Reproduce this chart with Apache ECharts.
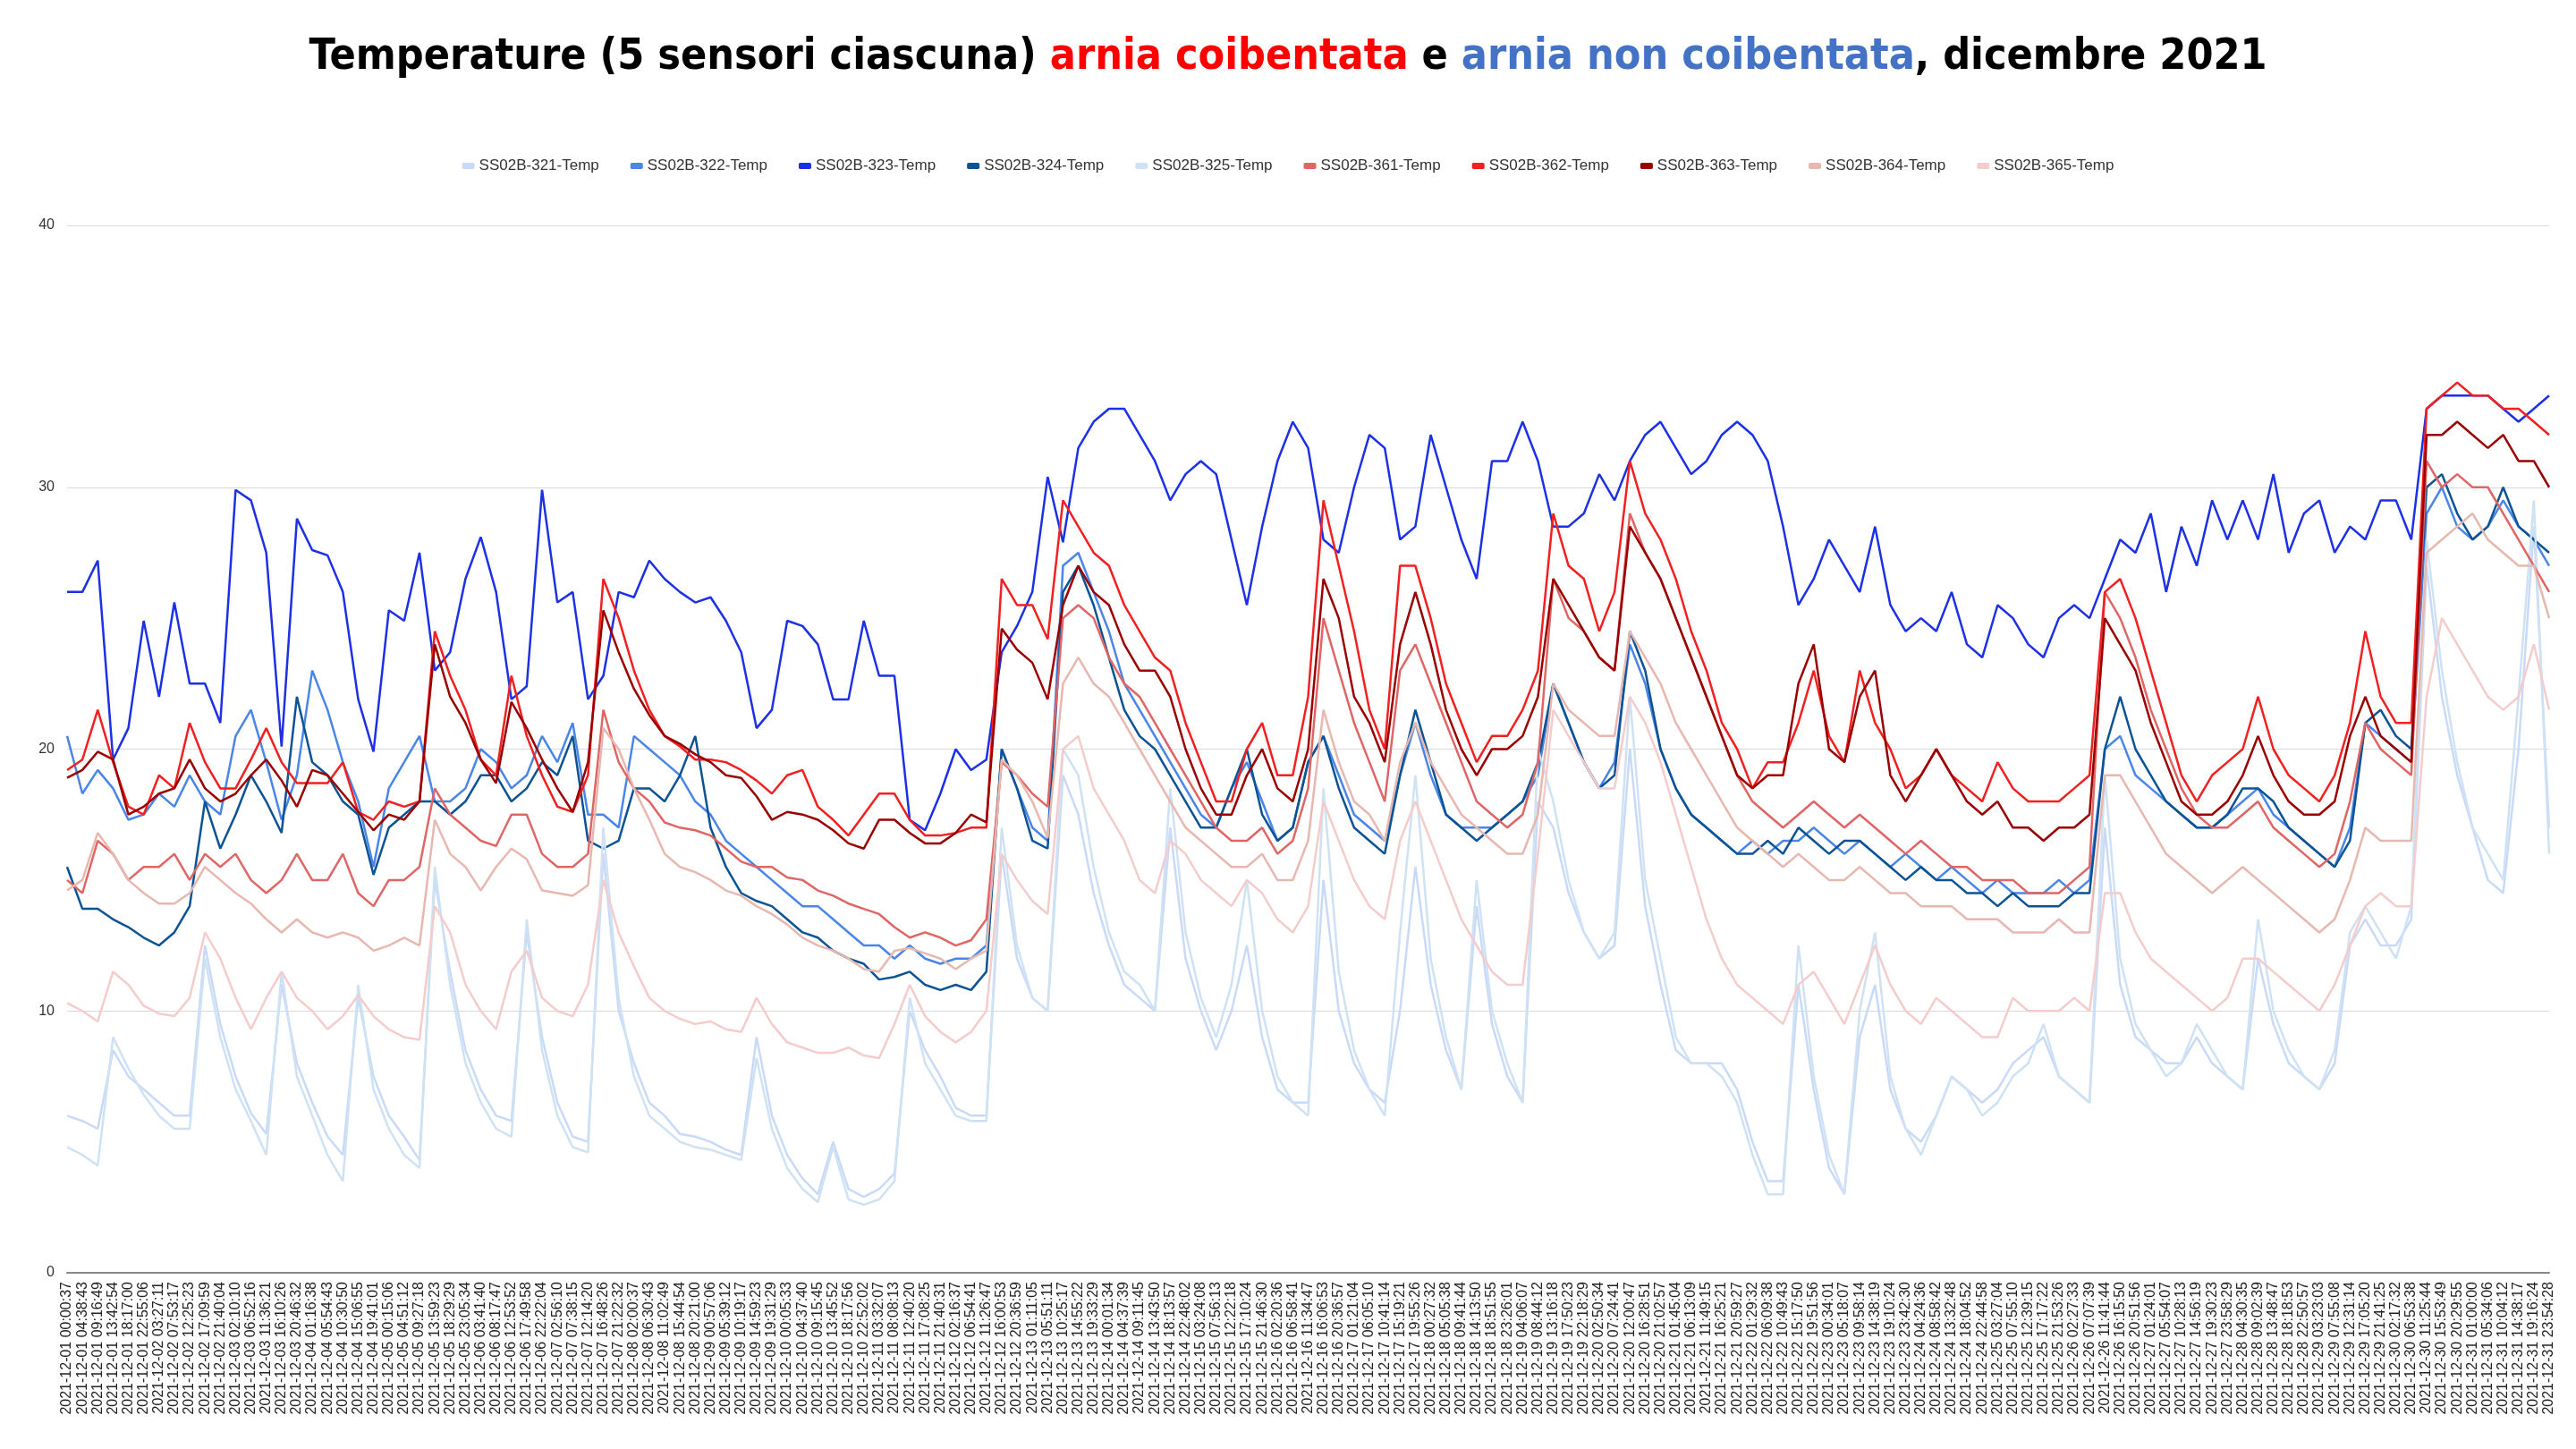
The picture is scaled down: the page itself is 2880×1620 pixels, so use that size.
<!DOCTYPE html>
<html>
<head>
<meta charset="utf-8">
<title>Temperature dicembre 2021</title>
<script src="https://cdn.jsdelivr.net/npm/echarts@6/dist/echarts.min.js"></script>
<style>
  html, body { margin: 0; padding: 0; background: #fff; }
  #chart { width: 2880px; height: 1620px; }
</style>
</head>
<body>
<div id="chart"></div>
<script>
const times = [
  '2021-12-01 00:00:37', '2021-12-01 04:38:43', '2021-12-01 09:16:49', '2021-12-01 13:42:54', '2021-12-01 18:17:00',
  '2021-12-01 22:55:06', '2021-12-02 03:27:11', '2021-12-02 07:53:17', '2021-12-02 12:25:23', '2021-12-02 17:09:59',
  '2021-12-02 21:40:04', '2021-12-03 02:10:10', '2021-12-03 06:52:16', '2021-12-03 11:36:21', '2021-12-03 16:10:26',
  '2021-12-03 20:46:32', '2021-12-04 01:16:38', '2021-12-04 05:54:43', '2021-12-04 10:30:50', '2021-12-04 15:06:55',
  '2021-12-04 19:41:01', '2021-12-05 00:15:06', '2021-12-05 04:51:12', '2021-12-05 09:27:18', '2021-12-05 13:59:23',
  '2021-12-05 18:29:29', '2021-12-05 23:05:34', '2021-12-06 03:41:40', '2021-12-06 08:17:47', '2021-12-06 12:53:52',
  '2021-12-06 17:49:58', '2021-12-06 22:22:04', '2021-12-07 02:56:10', '2021-12-07 07:38:15', '2021-12-07 12:14:20',
  '2021-12-07 16:48:26', '2021-12-07 21:22:32', '2021-12-08 02:00:37', '2021-12-08 06:30:43', '2021-12-08 11:02:49',
  '2021-12-08 15:44:54', '2021-12-08 20:21:00', '2021-12-09 00:57:06', '2021-12-09 05:39:12', '2021-12-09 10:19:17',
  '2021-12-09 14:59:23', '2021-12-09 19:31:29', '2021-12-10 00:05:33', '2021-12-10 04:37:40', '2021-12-10 09:15:45',
  '2021-12-10 13:45:52', '2021-12-10 18:17:56', '2021-12-10 22:52:02', '2021-12-11 03:32:07', '2021-12-11 08:08:13',
  '2021-12-11 12:40:20', '2021-12-11 17:08:25', '2021-12-11 21:40:31', '2021-12-12 02:16:37', '2021-12-12 06:54:41',
  '2021-12-12 11:26:47', '2021-12-12 16:00:53', '2021-12-12 20:36:59', '2021-12-13 01:11:05', '2021-12-13 05:51:11',
  '2021-12-13 10:25:17', '2021-12-13 14:55:22', '2021-12-13 19:33:29', '2021-12-14 00:01:34', '2021-12-14 04:37:39',
  '2021-12-14 09:11:45', '2021-12-14 13:43:50', '2021-12-14 18:13:57', '2021-12-14 22:48:02', '2021-12-15 03:24:08',
  '2021-12-15 07:56:13', '2021-12-15 12:22:18', '2021-12-15 17:10:24', '2021-12-15 21:46:30', '2021-12-16 02:20:36',
  '2021-12-16 06:58:41', '2021-12-16 11:34:47', '2021-12-16 16:06:53', '2021-12-16 20:36:57', '2021-12-17 01:21:04',
  '2021-12-17 06:05:10', '2021-12-17 10:41:14', '2021-12-17 15:19:21', '2021-12-17 19:55:26', '2021-12-18 00:27:32',
  '2021-12-18 05:05:38', '2021-12-18 09:41:44', '2021-12-18 14:13:50', '2021-12-18 18:51:55', '2021-12-18 23:26:01',
  '2021-12-19 04:06:07', '2021-12-19 08:44:12', '2021-12-19 13:16:18', '2021-12-19 17:50:23', '2021-12-19 22:18:29',
  '2021-12-20 02:50:34', '2021-12-20 07:24:41', '2021-12-20 12:00:47', '2021-12-20 16:28:51', '2021-12-20 21:02:57',
  '2021-12-21 01:45:04', '2021-12-21 06:13:09', '2021-12-21 11:49:15', '2021-12-21 16:25:21', '2021-12-21 20:59:27',
  '2021-12-22 01:29:32', '2021-12-22 06:09:38', '2021-12-22 10:49:43', '2021-12-22 15:17:50', '2021-12-22 19:51:56',
  '2021-12-23 00:34:01', '2021-12-23 05:18:07', '2021-12-23 09:58:14', '2021-12-23 14:38:19', '2021-12-23 19:10:24',
  '2021-12-23 23:42:30', '2021-12-24 04:24:36', '2021-12-24 08:58:42', '2021-12-24 13:32:48', '2021-12-24 18:04:52',
  '2021-12-24 22:44:58', '2021-12-25 03:27:04', '2021-12-25 07:55:10', '2021-12-25 12:39:15', '2021-12-25 17:17:22',
  '2021-12-25 21:53:26', '2021-12-26 02:27:33', '2021-12-26 07:07:39', '2021-12-26 11:41:44', '2021-12-26 16:15:50',
  '2021-12-26 20:51:56', '2021-12-27 01:24:01', '2021-12-27 05:54:07', '2021-12-27 10:28:13', '2021-12-27 14:56:19',
  '2021-12-27 19:30:23', '2021-12-27 23:58:29', '2021-12-28 04:30:35', '2021-12-28 09:02:39', '2021-12-28 13:48:47',
  '2021-12-28 18:18:53', '2021-12-28 22:50:57', '2021-12-29 03:23:03', '2021-12-29 07:55:08', '2021-12-29 12:31:14',
  '2021-12-29 17:05:20', '2021-12-29 21:41:25', '2021-12-30 02:17:32', '2021-12-30 06:53:38', '2021-12-30 11:25:44',
  '2021-12-30 15:53:49', '2021-12-30 20:29:55', '2021-12-31 01:00:00', '2021-12-31 05:34:06', '2021-12-31 10:04:12',
  '2021-12-31 14:38:17', '2021-12-31 19:16:24', '2021-12-31 23:54:28'
];

// arnia non coibentata
const s321 = [
  6, 5.8, 5.5, 8.5, 7.5, 7, 6.5, 6, 6, 12.5,
  9.5, 7.5, 6.1, 5.3, 11, 8, 6.5, 5.2, 4.5, 10.5,
  7.5, 6, 5.2, 4.3, 15, 11.5, 8.5, 7, 6, 5.8,
  13, 9, 6.5, 5.2, 5, 16, 10, 8, 6.5, 6,
  5.3, 5.2, 5, 4.7, 4.5, 9, 6, 4.5, 3.6, 3,
  5, 3.2, 2.9, 3.2, 3.8, 10, 8.5, 7.5, 6.3, 6,
  6, 16, 12, 10.5, 10, 19, 17.5, 14.5, 12.5, 11,
  10.5, 10, 17, 12, 10, 8.5, 10, 12.5, 9, 7,
  6.5, 6.5, 15, 10, 8, 7, 6.5, 10, 15.5, 11,
  8.5, 7, 14, 9.5, 7.5, 6.5, 18, 17, 14.5, 13,
  12, 12.5, 20, 14, 11, 8.5, 8, 8, 8, 7,
  5, 3.5, 3.5, 11, 7, 4, 3, 9, 11, 7,
  5.5, 5, 6, 7.5, 7, 6.5, 7, 8, 8.5, 9,
  7.5, 7, 6.5, 17, 11, 9, 8.5, 8, 8, 9,
  8, 7.5, 7, 12, 9.5, 8, 7.5, 7, 8, 12.5,
  13.5, 12.5, 12.5, 13.5, 27, 22, 19, 17, 15, 14.5,
  20, 28.5, 17
];
const s322 = [
  20.5, 18.3, 19.2, 18.5, 17.3, 17.5, 18.3, 17.8, 19, 18,
  17.5, 20.5, 21.5, 19.5, 17.3, 19, 23, 21.5, 19.5, 18,
  15.5, 18.5, 19.5, 20.5, 18, 18, 18.5, 20, 19.5, 18.5,
  19, 20.5, 19.5, 21, 17.5, 17.5, 17, 20.5, 20, 19.5,
  19, 18, 17.5, 16.5, 16, 15.5, 15, 14.5, 14, 14,
  13.5, 13, 12.5, 12.5, 12, 12.5, 12, 11.8, 12, 12,
  12.5, 20, 18.5, 17, 16.5, 27, 27.5, 26, 24.5, 22.5,
  21.5, 20.5, 19.5, 18.5, 17.5, 17, 18.5, 19.5, 18, 16.5,
  17, 19.5, 20.5, 19, 17.5, 17, 16.5, 19, 21, 19,
  17.5, 17, 17, 17, 17.5, 18, 19, 22.5, 21, 19.5,
  18.5, 19.5, 24, 22.5, 20, 18.5, 17.5, 17, 16.5, 16,
  16.5, 16, 16.5, 16.5, 17, 16.5, 16, 16.5, 16, 15.5,
  16, 15.5, 15, 15.5, 15, 14.5, 15, 14.5, 14.5, 14.5,
  15, 14.5, 15, 20, 20.5, 19, 18.5, 18, 17.5, 17,
  17, 17.5, 18, 18.5, 17.5, 17, 16.5, 16, 15.5, 17,
  21, 20.5, 20, 19.5, 29, 30, 28.5, 28, 28.5, 29.5,
  28.5, 28, 27
];
const s323 = [
  26, 26, 27.2, 19.6, 20.8, 24.9, 22, 25.6, 22.5, 22.5,
  21, 29.9, 29.5, 27.5, 20.1, 28.8, 27.6, 27.4, 26, 21.9,
  19.9, 25.3, 24.9, 27.5, 23, 23.7, 26.5, 28.1, 26, 21.9,
  22.4, 29.9, 25.6, 26, 21.9, 22.8, 26, 25.8, 27.2, 26.5,
  26, 25.6, 25.8, 24.9, 23.7, 20.8, 21.5, 24.9, 24.7, 24,
  21.9, 21.9, 24.9, 22.8, 22.8, 17.3, 16.9, 18.3, 20, 19.2,
  19.6, 23.7, 24.7, 26, 30.4, 27.9, 31.5, 32.5, 33, 33,
  32, 31, 29.5, 30.5, 31, 30.5, 28, 25.5, 28.5, 31,
  32.5, 31.5, 28, 27.5, 30, 32, 31.5, 28, 28.5, 32,
  30, 28, 26.5, 31, 31, 32.5, 31, 28.5, 28.5, 29,
  30.5, 29.5, 31, 32, 32.5, 31.5, 30.5, 31, 32, 32.5,
  32, 31, 28.5, 25.5, 26.5, 28, 27, 26, 28.5, 25.5,
  24.5, 25, 24.5, 26, 24, 23.5, 25.5, 25, 24, 23.5,
  25, 25.5, 25, 26.5, 28, 27.5, 29, 26, 28.5, 27,
  29.5, 28, 29.5, 28, 30.5, 27.5, 29, 29.5, 27.5, 28.5,
  28, 29.5, 29.5, 28, 33, 33.5, 33.5, 33.5, 33.5, 33,
  32.5, 33, 33.5
];
const s324 = [
  15.5, 13.9, 13.9, 13.5, 13.2, 12.8, 12.5, 13, 14, 18,
  16.2, 17.5, 19, 18, 16.8, 22, 19.5, 19, 18, 17.5,
  15.2, 17, 17.5, 18, 18, 17.5, 18, 19, 19, 18,
  18.5, 19.5, 19, 20.5, 16.5, 16.2, 16.5, 18.5, 18.5, 18,
  19, 20.5, 17, 15.5, 14.5, 14.2, 14, 13.5, 13, 12.8,
  12.3, 12, 11.8, 11.2, 11.3, 11.5, 11, 10.8, 11, 10.8,
  11.5, 20, 18.5, 16.5, 16.2, 26, 27, 25.5, 23.5, 21.5,
  20.5, 20, 19, 18, 17, 17, 18.5, 20, 17.5, 16.5,
  17, 19.5, 20.5, 18.5, 17, 16.5, 16, 19, 21.5, 19.5,
  17.5, 17, 16.5, 17, 17.5, 18, 19.5, 22.5, 21, 19.5,
  18.5, 19, 24.5, 23, 20, 18.5, 17.5, 17, 16.5, 16,
  16, 16.5, 16, 17, 16.5, 16, 16.5, 16.5, 16, 15.5,
  15, 15.5, 15, 15, 14.5, 14.5, 14, 14.5, 14, 14,
  14, 14.5, 14.5, 20, 22, 20, 19, 18, 17.5, 17,
  17, 17.5, 18.5, 18.5, 18, 17, 16.5, 16, 15.5, 16.5,
  21, 21.5, 20.5, 20, 30, 30.5, 29, 28, 28.5, 30,
  28.5, 28, 27.5
];
const s325 = [
  4.8, 4.5, 4.1, 9, 7.8, 6.8, 6, 5.5, 5.5, 12,
  9, 7, 5.8, 4.5, 11.5, 7.5, 6, 4.5, 3.5, 11,
  7, 5.5, 4.5, 4, 15.5, 11, 8, 6.5, 5.5, 5.2,
  13.5, 8.5, 6, 4.8, 4.6, 17, 10.5, 7.5, 6, 5.5,
  5, 4.8, 4.7, 4.5, 4.3, 8.2, 5.5, 4, 3.2, 2.7,
  4.8, 2.8, 2.6, 2.8, 3.5, 10.5, 8, 7, 6, 5.8,
  5.8, 17, 12.5, 10.5, 10, 20, 19, 15.5, 13, 11.5,
  11, 10, 18.5, 13, 10.5, 9, 11, 15, 10, 7.5,
  6.5, 6, 18.5, 11.5, 8.5, 7, 6, 13, 19, 12,
  9, 7, 15, 10, 8, 6.5, 20, 18, 15, 13,
  12, 13, 22, 15, 12, 9, 8, 8, 7.5, 6.5,
  4.5, 3, 3, 12.5, 7.5, 4.5, 3, 10, 13, 7.5,
  5.5, 4.5, 6, 7.5, 7, 6, 6.5, 7.5, 8, 9.5,
  7.5, 7, 6.5, 19, 12, 9.5, 8.5, 7.5, 8, 9.5,
  8.5, 7.5, 7, 13.5, 10, 8.5, 7.5, 7, 8.5, 13,
  14, 13, 12, 14, 28, 23, 19.5, 17, 16, 15,
  22, 29.5, 16
];

// arnia coibentata
const s361 = [
  15, 14.5, 16.5, 16, 15, 15.5, 15.5, 16, 15, 16,
  15.5, 16, 15, 14.5, 15, 16, 15, 15, 16, 14.5,
  14, 15, 15, 15.5, 18.5, 17.5, 17, 16.5, 16.3, 17.5,
  17.5, 16, 15.5, 15.5, 16, 21.5, 19.5, 18.5, 18, 17.2,
  17, 16.9, 16.7, 16.2, 15.7, 15.5, 15.5, 15.1, 15, 14.6,
  14.4, 14.1, 13.9, 13.7, 13.2, 12.8, 13, 12.8, 12.5, 12.7,
  13.5, 19.5, 19, 18.3, 17.8, 25, 25.5, 25, 23.5, 22.5,
  22, 21, 20, 19, 18, 17, 16.5, 16.5, 17, 16,
  16.5, 18.5, 25, 23, 21, 19.5, 18, 23, 24, 22.5,
  21, 19.5, 18, 17.5, 17, 17.5, 19.5, 26.5, 25, 24.5,
  23.5, 23, 29, 27.5, 26.5, 25, 23.5, 22, 20.5, 19,
  18, 17.5, 17, 17.5, 18, 17.5, 17, 17.5, 17, 16.5,
  16, 16.5, 16, 15.5, 15.5, 15, 15, 15, 14.5, 14.5,
  14.5, 15, 15.5, 26, 25, 23.5, 21.5, 20, 18.5, 17.5,
  17, 17, 17.5, 18, 17, 16.5, 16, 15.5, 16, 18,
  21, 20, 19.5, 19, 31, 30, 30.5, 30, 30, 29,
  28, 27, 26
];
const s362 = [
  19.2, 19.6, 21.5, 19.5, 17.8, 17.5, 19, 18.5, 21, 19.5,
  18.5, 18.5, 19.6, 20.8, 19.5, 18.7, 18.7, 18.7, 19.5, 17.6,
  17.3, 18, 17.8, 18, 24.5, 22.8, 21.5, 19.6, 19, 22.8,
  20.5, 19, 17.8, 17.6, 19, 26.5, 25, 23, 21.5, 20.5,
  20.1, 19.6, 19.6, 19.5, 19.2, 18.8, 18.3, 19, 19.2, 17.8,
  17.3, 16.7, 17.5, 18.3, 18.3, 17.3, 16.7, 16.7, 16.8, 17,
  17, 26.5, 25.5, 25.5, 24.2, 29.5, 28.5, 27.5, 27, 25.5,
  24.5, 23.5, 23, 21, 19.5, 18, 18, 20, 21, 19,
  19, 22, 29.5, 27, 24.5, 21.5, 20, 27, 27, 25,
  22.5, 21, 19.5, 20.5, 20.5, 21.5, 23, 29, 27, 26.5,
  24.5, 26, 31, 29, 28, 26.5, 24.5, 23, 21, 20,
  18.5, 19.5, 19.5, 21, 23, 20.5, 19.5, 23, 21, 20,
  18.5, 19, 20, 19, 18.5, 18, 19.5, 18.5, 18, 18,
  18, 18.5, 19, 26, 26.5, 25, 23, 21, 19, 18,
  19, 19.5, 20, 22, 20, 19, 18.5, 18, 19, 21,
  24.5, 22, 21, 21, 33, 33.5, 34, 33.5, 33.5, 33,
  33, 32.5, 32
];
const s363 = [
  18.9, 19.2, 19.9, 19.6, 17.5, 17.8, 18.3, 18.5, 19.6, 18.5,
  18, 18.3, 19, 19.6, 18.8, 17.8, 19.2, 19, 18.3, 17.6,
  16.9, 17.5, 17.3, 18, 24, 22, 21, 19.6, 18.7, 21.8,
  20.8, 19.6, 18.5, 17.6, 19.5, 25.3, 23.7, 22.3, 21.3, 20.5,
  20.2, 19.8, 19.5, 19, 18.9, 18.2, 17.3, 17.6, 17.5, 17.3,
  16.9, 16.4, 16.2, 17.3, 17.3, 16.8, 16.4, 16.4, 16.8, 17.5,
  17.2, 24.6, 23.8, 23.3, 21.9, 25.5, 27, 26, 25.5, 24,
  23, 23, 22, 20, 18.5, 17.5, 17.5, 19, 20, 18.5,
  18, 20, 26.5, 25, 22, 21, 19.5, 24, 26, 24,
  21.5, 20, 19, 20, 20, 20.5, 22, 26.5, 25.5, 24.5,
  23.5, 23, 28.5, 27.5, 26.5, 25, 23.5, 22, 20.5, 19,
  18.5, 19, 19, 22.5, 24, 20, 19.5, 22, 23, 19,
  18, 19, 20, 19, 18, 17.5, 18, 17, 17, 16.5,
  17, 17, 17.5, 25, 24, 23, 21, 19.5, 18, 17.5,
  17.5, 18, 19, 20.5, 19, 18, 17.5, 17.5, 18, 20.5,
  22, 20.5, 20, 19.5, 32, 32, 32.5, 32, 31.5, 32,
  31, 31, 30
];
const s364 = [
  14.6, 15, 16.8, 16, 15, 14.5, 14.1, 14.1, 14.5, 15.5,
  15, 14.5, 14.1, 13.5, 13, 13.5, 13, 12.8, 13, 12.8,
  12.3, 12.5, 12.8, 12.5, 17.3, 16, 15.5, 14.6, 15.5, 16.2,
  15.8, 14.6, 14.5, 14.4, 14.8, 20.8, 20, 18.5, 17.3, 16,
  15.5, 15.3, 15, 14.6, 14.4, 14, 13.7, 13.3, 12.8, 12.5,
  12.3, 12, 11.6, 11.5, 12.3, 12.4, 12.2, 12, 11.6, 12,
  12.3, 19.6, 19, 18, 16.6, 22.5, 23.5, 22.5, 22, 21,
  20, 19, 18, 17, 16.5, 16, 15.5, 15.5, 16, 15,
  15, 16.5, 21.5, 19.5, 18, 17.5, 16.5, 19.5, 21, 19.5,
  18.5, 17.5, 17, 16.5, 16, 16, 17.5, 22.5, 21.5, 21,
  20.5, 20.5, 24.5, 23.5, 22.5, 21, 20, 19, 18, 17,
  16.5, 16, 15.5, 16, 15.5, 15, 15, 15.5, 15, 14.5,
  14.5, 14, 14, 14, 13.5, 13.5, 13.5, 13, 13, 13,
  13.5, 13, 13, 19, 19, 18, 17, 16, 15.5, 15,
  14.5, 15, 15.5, 15, 14.5, 14, 13.5, 13, 13.5, 15,
  17, 16.5, 16.5, 16.5, 27.5, 28, 28.5, 29, 28, 27.5,
  27, 27, 25
];
const s365 = [
  10.3, 10, 9.6, 11.5, 11, 10.2, 9.9, 9.8, 10.5, 13,
  12, 10.5, 9.3, 10.5, 11.5, 10.5, 10, 9.3, 9.8, 10.6,
  9.8, 9.3, 9, 8.9, 14, 13, 11, 10, 9.3, 11.5,
  12.3, 10.5, 10, 9.8, 11, 15, 13, 11.7, 10.5, 10,
  9.7, 9.5, 9.6, 9.3, 9.2, 10.5, 9.5, 8.8, 8.6, 8.4,
  8.4, 8.6, 8.3, 8.2, 9.5, 11, 9.8, 9.2, 8.8, 9.2,
  10, 16, 15, 14.2, 13.7, 20, 20.5, 18.5, 17.5, 16.5,
  15, 14.5, 16.5, 16, 15, 14.5, 14, 15, 14.5, 13.5,
  13, 14, 18, 16.5, 15, 14, 13.5, 16.5, 18, 16.5,
  15, 13.5, 12.5, 11.5, 11, 11, 16, 21.5, 20.5, 19.5,
  18.5, 18.5, 22, 21, 19.5, 17.5, 15.5, 13.5, 12, 11,
  10.5, 10, 9.5, 11, 11.5, 10.5, 9.5, 11, 12.5, 11,
  10, 9.5, 10.5, 10, 9.5, 9, 9, 10.5, 10, 10,
  10, 10.5, 10, 14.5, 14.5, 13, 12, 11.5, 11, 10.5,
  10, 10.5, 12, 12, 11.5, 11, 10.5, 10, 11, 12.5,
  14, 14.5, 14, 14, 22, 25, 24, 23, 22, 21.5,
  22, 24, 21.5
];

const sensors = [
  { name: 'SS02B-321-Temp', data: s321, color: '#c9daf8' },
  { name: 'SS02B-322-Temp', data: s322, color: '#4a86e8' },
  { name: 'SS02B-323-Temp', data: s323, color: '#1c30e6' },
  { name: 'SS02B-324-Temp', data: s324, color: '#0b5394' },
  { name: 'SS02B-325-Temp', data: s325, color: '#cfe2f3' },
  { name: 'SS02B-361-Temp', data: s361, color: '#e06666' },
  { name: 'SS02B-362-Temp', data: s362, color: '#f22020' },
  { name: 'SS02B-363-Temp', data: s363, color: '#990000' },
  { name: 'SS02B-364-Temp', data: s364, color: '#e6b8af' },
  { name: 'SS02B-365-Temp', data: s365, color: '#f4cccc' }
];

const chart = echarts.init(document.getElementById('chart'));

const titleFont = "'Liberation Sans Narrow', 'DejaVu Sans Condensed', sans-serif";
const bodyFont = "'Liberation Sans', Arial, sans-serif";

const option = {
  animation: false,
  backgroundColor: '#fff',
  color: sensors.map(s => s.color),
  title: {
    left: 'center',
    top: 36,
    text: '{k|Temperature (5 sensori ciascuna) }{r|arnia coibentata}{k| e }{b|arnia non coibentata}{k|, dicembre 2021}',
    textStyle: {
      rich: {
        k: { color: '#000', fontSize: 48, fontWeight: 'bold', fontFamily: titleFont },
        r: { color: '#ff0000', fontSize: 48, fontWeight: 'bold', fontFamily: titleFont },
        b: { color: '#4472c4', fontSize: 48, fontWeight: 'bold', fontFamily: titleFont }
      }
    }
  },
  legend: {
    top: 172,
    left: 'center',
    icon: 'roundRect',
    itemWidth: 14,
    itemHeight: 7,
    itemGap: 35,
    textStyle: { fontSize: 17, color: '#333', fontFamily: bodyFont },
    data: sensors.map(s => s.name)
  },
  grid: {
    left: 75,
    right: 30,
    top: 252,
    bottom: 197
  },
  xAxis: {
    type: 'category',
    boundaryGap: false,
    data: times,
    axisLine: { lineStyle: { color: '#888', width: 2 } },
    axisTick: { show: false },
    axisLabel: {
      interval: 0,
      rotate: 90,
      fontSize: 16,
      margin: 10,
      color: '#222',
      fontFamily: bodyFont
    }
  },
  yAxis: {
    type: 'value',
    min: 0,
    max: 40,
    interval: 10,
    axisLine: { show: false },
    axisTick: { show: false },
    axisLabel: { fontSize: 16, color: '#333', margin: 14, fontFamily: bodyFont },
    splitLine: { lineStyle: { color: '#d9d9d9', width: 1 } }
  },
  series: sensors.map(s => ({
    name: s.name,
    type: 'line',
    data: s.data,
    showSymbol: false,
    symbol: 'none',
    lineStyle: { width: 2.5, color: s.color },
    itemStyle: { color: s.color }
  }))
};

chart.setOption(option);
</script>
</body>
</html>
